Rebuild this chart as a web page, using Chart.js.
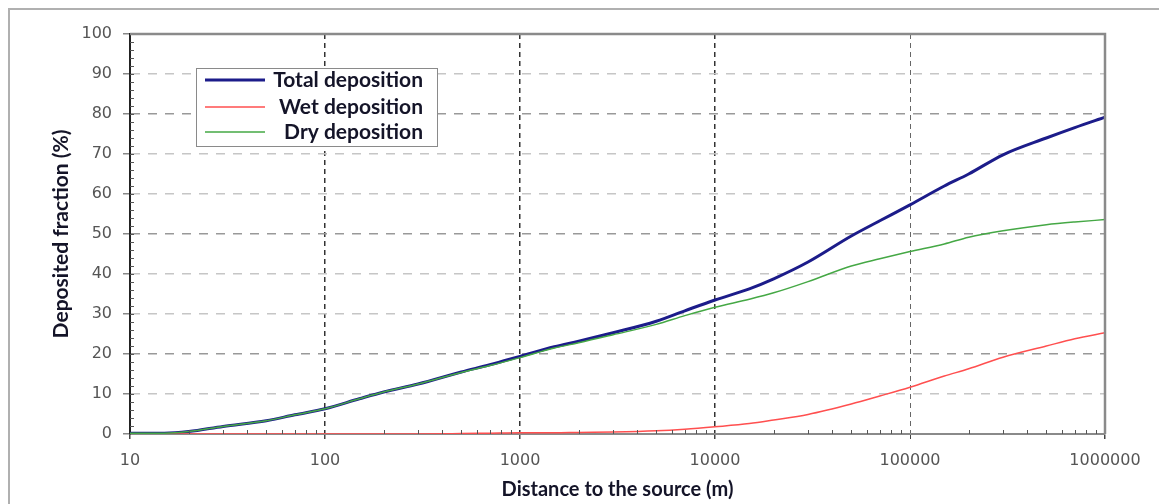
<!DOCTYPE html>
<html>
<head>
<meta charset="utf-8">
<script src="https://cdn.jsdelivr.net/npm/chart.js@4/dist/chart.umd.min.js"></script>
<style>
  body { margin: 0; background: #fff; }
  #wrap { width: 1159px; height: 504px; position: relative; }
</style>
</head>
<body>
<div id="wrap"><canvas id="depChart"></canvas></div>
<script>
// distance to the source (m)
const distances = [10, 15, 20, 30, 50, 70, 100, 150, 200, 300, 500, 700, 1000, 1500, 2000, 3000,
  5000, 7000, 10000, 15000, 20000, 30000, 50000, 70000, 100000, 150000, 200000, 300000,
  500000, 700000, 1000000];

// deposited fraction (%)
const totalDep = [0.2, 0.2, 0.6, 1.9, 3.3, 4.8, 6.3, 8.8, 10.5, 12.5, 15.5, 17.3, 19.4, 21.8, 23.2, 25.3,
  28.2, 30.8, 33.5, 36.3, 38.8, 43.0, 49.5, 53.3, 57.3, 62.0, 65.0, 69.8, 74.0, 76.6, 79.2];
const wetDep = [0, 0, 0, 0, 0, 0, 0, 0, 0, 0, 0.1, 0.2, 0.3, 0.3, 0.4, 0.5,
  0.8, 1.2, 1.8, 2.6, 3.5, 4.9, 7.5, 9.5, 11.7, 14.5, 16.3, 19.2, 22.0, 23.8, 25.3];
const dryDep = [0.2, 0.2, 0.6, 1.9, 3.3, 4.8, 6.3, 8.8, 10.5, 12.5, 15.4, 17.1, 19.1, 21.5, 22.8, 24.8,
  27.4, 29.6, 31.7, 33.7, 35.3, 38.1, 42.0, 43.8, 45.6, 47.5, 49.2, 50.8, 52.3, 53.0, 53.6];

const xTicks = [10, 100, 1000, 10000, 100000, 1000000];

const toPoints = (vals) => vals.map((v, i) => ({ x: distances[i], y: v }));

// plot frame, minor ticks and the boxed legend inside the plot
const extras = {
  id: 'extras',
  beforeDraw(chart) {
    const ctx = chart.ctx;
    ctx.save();
    ctx.strokeStyle = '#b0b0b0';
    ctx.lineWidth = 2;
    ctx.beginPath();
    ctx.moveTo(9, 504);
    ctx.lineTo(9, 9);
    ctx.lineTo(1159, 9);
    ctx.stroke();
    ctx.restore();
  },
  afterDatasetsDraw(chart) {
    const { ctx, chartArea: a, scales: { x, y } } = chart;
    ctx.save();
    // top + right frame
    ctx.strokeStyle = '#8a8a8a';
    ctx.lineWidth = 2.5;
    ctx.beginPath();
    ctx.moveTo(a.left, a.top);
    ctx.lineTo(a.right, a.top);
    ctx.lineTo(a.right, a.bottom);
    ctx.stroke();

    // minor ticks
    ctx.strokeStyle = '#555';
    ctx.lineWidth = 1;
    ctx.beginPath();
    for (let d = 10; d < 1000000; d *= 10) {
      for (let m = 2; m <= 9; m++) {
        const px = Math.round(x.getPixelForValue(d * m)) + 0.5;
        ctx.moveTo(px, a.bottom);
        ctx.lineTo(px, a.bottom - 4);
      }
    }
    for (let v = 2; v < 100; v += 2) {
      const py = Math.round(y.getPixelForValue(v)) + 0.5;
      ctx.moveTo(a.left, py);
      ctx.lineTo(a.left + 4, py);
    }
    ctx.stroke();

    // legend
    const bx = 196, by = 68, bw = 241, bh = 78;
    ctx.fillStyle = '#fff';
    ctx.fillRect(bx, by, bw, bh);
    ctx.strokeStyle = '#8a8a8a';
    ctx.lineWidth = 1;
    ctx.strokeRect(bx + 0.5, by + 0.5, bw, bh);
    const rows = [80, 107, 132];
    ctx.font = 'bold 21px Lato';
    ctx.textAlign = 'right';
    ctx.textBaseline = 'middle';
    chart.data.datasets.forEach((ds, i) => {
      ctx.strokeStyle = ds.borderColor;
      ctx.lineWidth = ds.borderWidth;
      ctx.beginPath();
      ctx.moveTo(205, rows[i]);
      ctx.lineTo(265, rows[i]);
      ctx.stroke();
      ctx.fillStyle = '#141428';
      ctx.fillText(ds.label, 423, rows[i]);
    });
    ctx.restore();
  }
};

new Chart(document.getElementById('depChart'), {
  type: 'line',
  data: {
    datasets: [
      { label: 'Total deposition', data: toPoints(totalDep), borderColor: '#1c1c8a', borderWidth: 3, order: 2 },
      { label: 'Wet deposition', data: toPoints(wetDep), borderColor: '#ff4f4f', borderWidth: 1.5, order: 1 },
      { label: 'Dry deposition', data: toPoints(dryDep), borderColor: '#45a845', borderWidth: 1.5, order: 0 }
    ]
  },
  options: {
    responsive: true,
    maintainAspectRatio: false,
    animation: false,
    layout: { padding: { left: 48, right: 54, top: 34, bottom: 2 } },
    elements: {
      point: { radius: 0 },
      line: { cubicInterpolationMode: 'monotone', fill: false }
    },
    plugins: { legend: { display: false }, tooltip: { enabled: false } },
    scales: {
      x: {
        type: 'logarithmic',
        min: 10,
        max: 1000000,
        afterBuildTicks: (scale) => { scale.ticks = xTicks.map(v => ({ value: v })); },
        afterFit: (scale) => { scale.height = 68; },
        border: { display: true, color: '#8a8a8a', width: 2, dash: [5, 4] },
        grid: {
          color: (c) => (c.tick.value === 10 || c.tick.value === 1000000) ? 'rgba(0,0,0,0)'
            : (c.tick.value === 100000 ? '#666' : '#333'),
          tickColor: '#444',
          tickLength: 5,
          lineWidth: (c) => c.tick.value === 100000 ? 1 : 1.5
        },
        ticks: {
          padding: 12,
          color: '#555',
          font: { family: 'DejaVu Sans', size: 16 },
          maxRotation: 0,
          callback: (v) => String(v)
        },
        title: {
          display: true,
          text: 'Distance to the source (m)',
          color: '#141428',
          font: { family: 'Lato', size: 20, weight: 'bold' },
          padding: { top: 0, bottom: 0 }
        }
      },
      y: {
        min: 0,
        max: 100,
        ticks: {
          stepSize: 10,
          padding: 11,
          color: '#555',
          font: { family: 'DejaVu Sans', size: 16 }
        },
        afterFit: (scale) => { scale.width = 82; },
        border: { display: true, color: '#222', width: 2, dash: [9, 8] },
        grid: {
          color: (c) => (c.tick.value === 0 || c.tick.value === 100) ? 'rgba(0,0,0,0)'
            : ([20, 50, 80].includes(c.tick.value) ? '#999' : '#c6c6c6'),
          tickColor: '#888',
          tickLength: 7,
          lineWidth: 1.5
        },
        title: {
          display: true,
          text: 'Deposited fraction (%)',
          color: '#141428',
          font: { family: 'Lato', size: 21, weight: 'bold' },
          padding: { top: 1, bottom: 0 }
        }
      }
    }
  },
  plugins: [extras]
});
</script>
</body>
</html>
